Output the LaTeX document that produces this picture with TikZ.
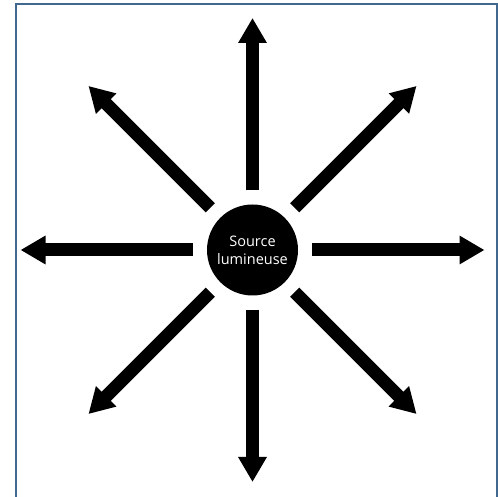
\documentclass[tikz,border=0pt]{standalone}
\usepackage{fontspec}
\setmainfont{Open Sans}
\usepackage{tikz}
\usetikzlibrary{arrows.meta, positioning}
\definecolor{framecol}{HTML}{41698F}
\tikzset{
  frame/.style={draw=framecol, line width=2pt},
  source/.style={circle, fill=black, text=white, minimum size=91pt, inner sep=0pt, align=center, font=\fontsize{14.5}{18}\selectfont},
  ray/.style={line width=13pt, shorten <=14pt, -{Triangle[length=25pt,width=27pt]}}
}
\begin{document}
\begin{tikzpicture}[x=1pt,y=1pt]
    \useasboundingbox (0,0) rectangle (498,497);
    \draw[frame] (16,-10) rectangle (496.5,492.5);
    \node (src) [source] at (252.5,247) {Source\\lumineuse};
    \foreach \a in {0,45,...,315} {
        \coordinate (tip\a) at ([shift={(\a:232)}]src.center);
        \draw[ray] (src) -- (tip\a);
    }
\end{tikzpicture}
\end{document}
